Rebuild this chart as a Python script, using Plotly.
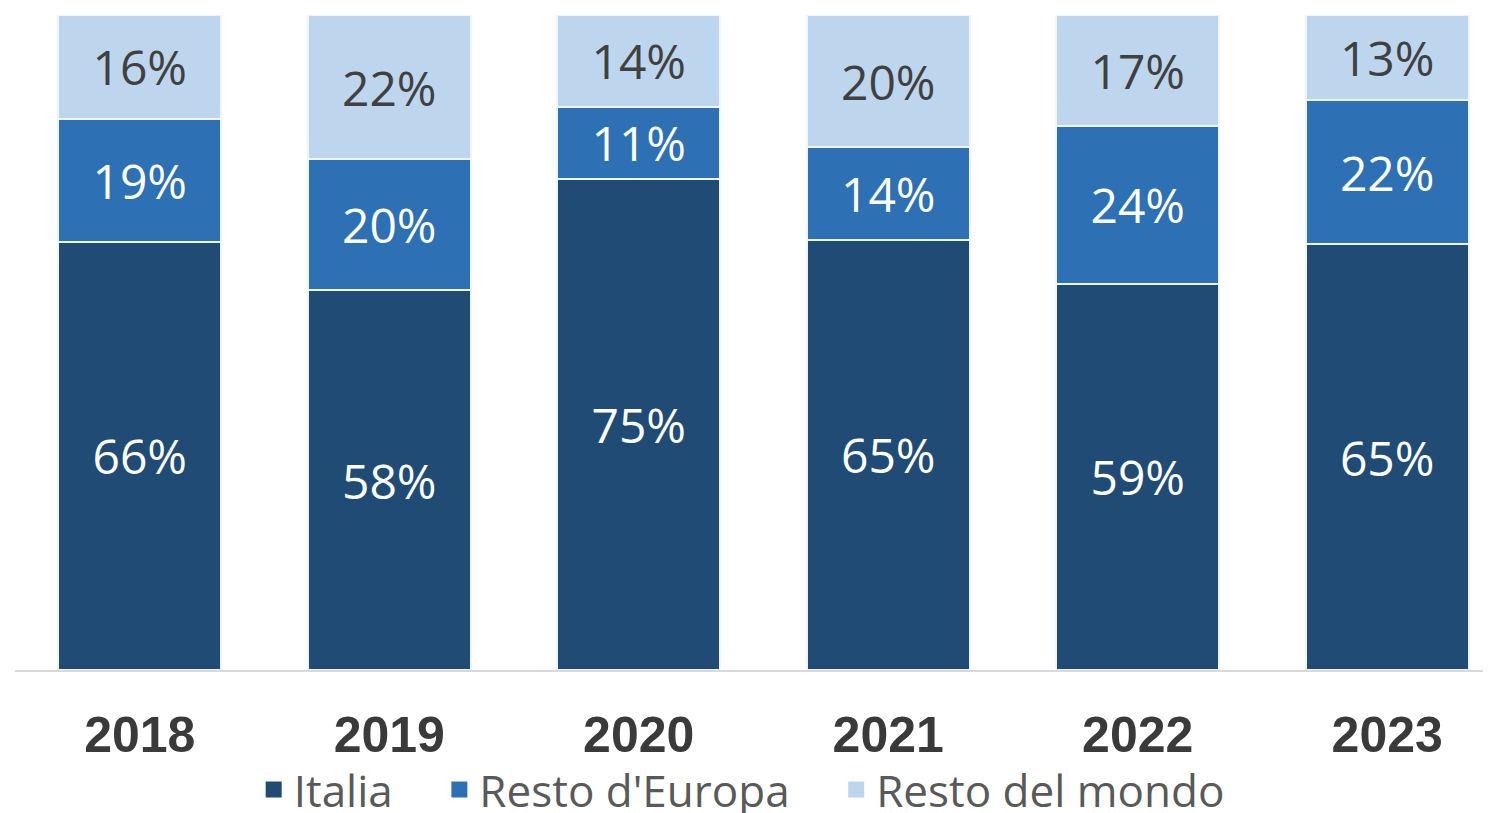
import plotly.graph_objects as go

years = ["2018", "2019", "2020", "2021", "2022", "2023"]
italia = [66, 58, 75, 65, 59, 65]
europa = [19, 20, 11, 14, 24, 22]
mondo = [16, 22, 14, 20, 17, 13]

pad = "\u00a0\u00a0\u00a0\u2009"
series = [
    ("Italia", italia, "#204b75", "white"),
    ("Resto d'Europa", europa, "#2d70b3", "white"),
    ("Resto del mondo", mondo, "#bdd6ee", "#404040"),
]

fig = go.Figure()
for name, vals, color, tcolor in series:
    fig.add_trace(go.Bar(
        x=years, y=vals, name=name, showlegend=False, legendgroup=name,
        marker=dict(color=color, line=dict(color="#eef5fc", width=2)),
        text=[f"{v}%" for v in vals],
        textposition="inside", insidetextanchor="middle", textangle=0,
        textfont=dict(family="Open Sans", size=48, color=tcolor),
    ))

# legend entries with larger square swatches
for i, (name, vals, color, tcolor) in enumerate(series):
    label = name + (pad if i < len(series) - 1 else "")
    fig.add_trace(go.Scatter(
        x=[None], y=[None], mode="markers", name=label, legendgroup=name,
        marker=dict(symbol="square", size=16, color=color),
        hoverinfo="skip",
    ))

H = 830
T, B = 7, 168
plot_h = H - T - B
fig.update_layout(
    barmode="stack", barnorm="percent", bargap=0.347,
    width=1491, height=H,
    margin=dict(l=7, r=7, t=T, b=B),
    paper_bgcolor="white", plot_bgcolor="white",
    uniformtext=dict(minsize=40, mode="show"),
    showlegend=True,
    legend=dict(orientation="h", x=0.492, xanchor="center",
                y=(662 - 782) / plot_h, yanchor="middle",
                font=dict(family="Open Sans", size=44, color="#595959"),
                traceorder="normal", itemwidth=30, bgcolor="rgba(0,0,0,0)"),
    xaxis=dict(range=[-0.5, 5.42], showline=True, linecolor="#d9d9d9", linewidth=1.5,
               ticks="outside", ticklen=20, tickcolor="rgba(0,0,0,0)",
               tickfont=dict(family="Liberation Sans", size=50, color="#3a3a3a", weight="bold"),
               showgrid=False),
    yaxis=dict(range=[0, 100], visible=False, showgrid=False),
)

fig.write_html("out.html")
